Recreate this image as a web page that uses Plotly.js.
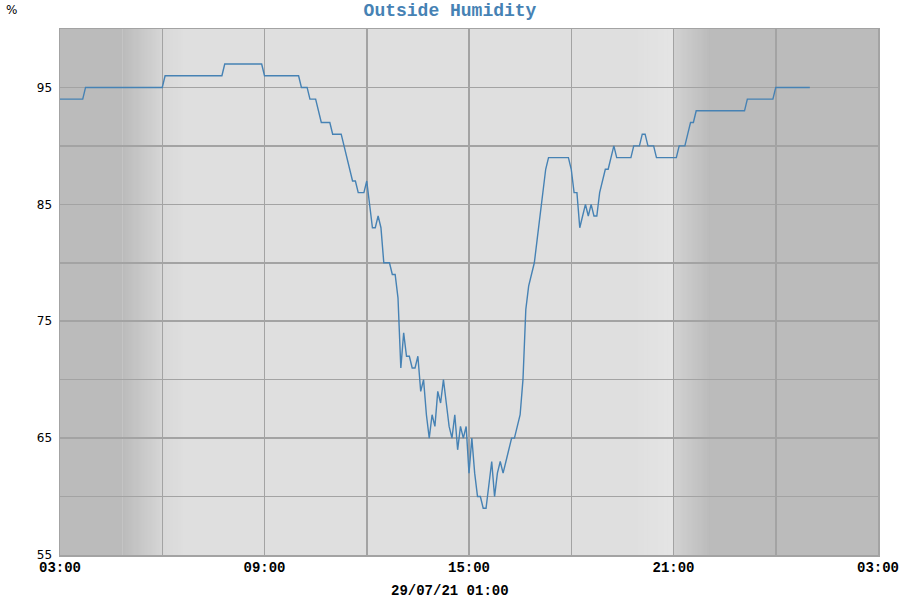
<!DOCTYPE html>
<html>
<head>
<meta charset="utf-8">
<script src="https://cdn.plot.ly/plotly-3.0.1.min.js"></script>
<style>html,body{margin:0;padding:0;background:#fff;}#chart{width:900px;height:600px;}</style>
</head>
<body>
<div id="chart"></div>
<script>
// Readings (time of day, 28/07/21 03:00 -> 29/07/21 03:00)
var times = ["03:00","03:40","03:45","06:00","06:05","07:45","07:50","08:55","09:00","10:00","10:05","10:15","10:20","10:30","10:40","10:55","11:00","11:15","11:35","11:40","11:45","11:55","12:00","12:05","12:10","12:15","12:20","12:25","12:30","12:40","12:45","12:50","12:55","13:00","13:05","13:10","13:15","13:20","13:25","13:30","13:35","13:40","13:45","13:50","13:55","14:00","14:05","14:10","14:15","14:20","14:25","14:30","14:35","14:40","14:45","14:50","14:55","15:00","15:05","15:10","15:15","15:20","15:25","15:30","15:35","15:40","15:45","15:50","15:55","16:00","16:05","16:10","16:15","16:20","16:25","16:30","16:35","16:40","16:45","16:50","16:55","17:00","17:05","17:10","17:15","17:20","17:55","18:00","18:05","18:10","18:15","18:20","18:25","18:30","18:35","18:40","18:45","18:50","18:55","19:00","19:05","19:10","19:15","19:20","19:45","19:50","20:00","20:05","20:10","20:15","20:25","20:30","21:05","21:10","21:20","21:25","21:30","21:35","21:40","23:05","23:10","23:55","00:00","01:00"];
var humidity = [94,94,95,95,96,96,97,97,96,96,95,95,94,94,92,92,91,91,87,87,86,86,87,85,83,83,84,83,80,80,79,79,77,71,74,72,72,71,71,72,69,70,67,65,67,66,69,68,70,68,66,65,67,64,66,65,66,62,65,62,60,60,59,59,61,63,60,62,63,62,63,64,65,65,66,67,70,76,78,79,80,82,84,86,88,89,89,88,86,86,83,84,85,84,85,84,84,86,87,88,88,89,90,89,89,90,90,91,91,90,90,89,89,90,90,91,92,92,93,93,94,94,95,95];
var yTicks = [55,65,75,85,95];
var chartTitle = "Outside Humidity";
var unitLabel = "%";
var xLabel = "29/07/21 01:00";

function toDate(t){
  var h = parseInt(t.split(":")[0],10);
  return (h < 3 ? "2021-07-29 " : "2021-07-28 ") + t;
}
var xs = times.map(toDate);

function hx(v){var s=Math.round(v).toString(16);return s.length<2?"0"+s:s;}
function grey(v){return "#"+hx(v)+hx(v)+hx(v);}
var shapes = [];
function rect(x0,x1,c){
  shapes.push({type:"rect",xref:"x",yref:"paper",x0:x0,x1:x1,y0:0,y1:1,fillcolor:c,line:{width:0},layer:"below"});
}
function ms(t){return new Date(t.replace(" ","T")+":00Z").getTime();}
function fmt(v){return new Date(v).toISOString().slice(0,19).replace("T"," ");}
// gradient drawn as stacked strips, each running to the end of the band (no seams)
function grad(t0,t1,c0,c1,n){
  var a=ms(t0), b=ms(t1);
  for(var i=0;i<n;i++){
    var f=(i+0.5)/n;
    rect(fmt(a+(b-a)*i/n), t1, grey(c0+(c1-c0)*f));
  }
}
rect("2021-07-28 03:00","2021-07-28 04:50",grey(0xbb));
grad("2021-07-28 04:50","2021-07-28 06:00",0xbb,0xd6,30);
grad("2021-07-28 06:00","2021-07-28 06:40",0xd8,0xdf,15);
grad("2021-07-28 19:50","2021-07-28 21:00",0xdf,0xe5,20);
grad("2021-07-28 21:00","2021-07-28 22:05",0xd2,0xbb,30);
rect("2021-07-28 22:05","2021-07-29 03:00",grey(0xbb));

var gridC = "#a3a3a3";
var data = [{
  x: xs, y: humidity, type: "scatter", mode: "lines",
  line: {color: "#4682b4", width: 1.4}, hoverinfo: "skip"
}];
var layout = {
  width: 900, height: 600,
  margin: {l: 60, r: 22, t: 29, b: 45},
  paper_bgcolor: "#ffffff", plot_bgcolor: "#dfdfdf",
  showlegend: false,
  title: {text: chartTitle, x: 0.5, xref: "container", y: 1 - 10/600, yref: "container", yanchor: "middle",
          font: {family: "Liberation Mono, Courier New, monospace", size: 18, color: "#4682b4", weight: "bold"}},
  xaxis: {
    type: "date", range: ["2021-07-28 03:00", "2021-07-29 03:00"],
    tick0: "2021-07-28 03:00", dtick: 6*3600*1000, tickformat: "%H:%M",
    showgrid: true, gridcolor: gridC, gridwidth: 1.5,
    minor: {tick0: "2021-07-28 03:00", dtick: 3*3600*1000, showgrid: true, gridcolor: gridC, gridwidth: 1.5},
    showline: true, linecolor: gridC, linewidth: 1.5, mirror: true,
    ticks: "", ticklabelstandoff: -1,
    tickfont: {family: "Liberation Mono, Courier New, monospace", size: 14, color: "#000", weight: "bold"},
    zeroline: false, fixedrange: true
  },
  yaxis: {
    range: [55, 100], tickvals: yTicks, ticktext: yTicks.map(String),
    showgrid: true, gridcolor: gridC, gridwidth: 1.5,
    minor: {tick0: 55, dtick: 5, showgrid: true, gridcolor: gridC, gridwidth: 1.5},
    showline: true, linecolor: gridC, linewidth: 1.5, mirror: true,
    ticks: "outside", ticklen: 4, tickcolor: "rgba(0,0,0,0)",
    tickfont: {family: "DejaVu Sans, sans-serif", size: 12, color: "#000"},
    zeroline: false, fixedrange: true
  },
  shapes: shapes,
  annotations: [
    {text: unitLabel, xref: "paper", yref: "paper", x: -49/818, y: 1 + 19/526, xanchor: "center", yanchor: "middle", showarrow: false,
     font: {family: "DejaVu Sans, sans-serif", size: 12, color: "#000"}},
    {text: xLabel, xref: "paper", yref: "paper", x: (450-60)/818, y: -36/526, xanchor: "center", yanchor: "middle", showarrow: false,
     font: {family: "Liberation Mono, Courier New, monospace", size: 14, color: "#000", weight: "bold"}}
  ]
};
Plotly.newPlot("chart", data, layout, {staticPlot: true, displayModeBar: false});
</script>
</body>
</html>
